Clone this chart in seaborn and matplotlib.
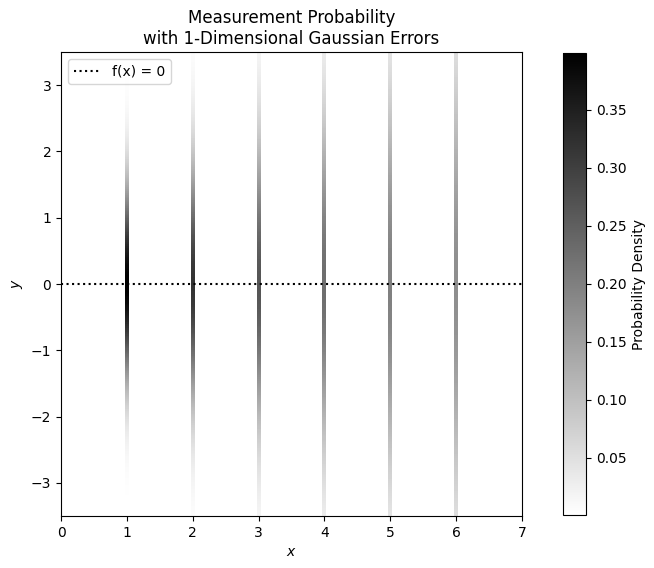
import numpy as np
import pandas as pd
import matplotlib
matplotlib.use("Agg")
import matplotlib.pyplot as plt
import seaborn as sns

# data
x_centers = [1, 2, 3, 4, 5, 6]
sigmas = [1.0, 1.25, 1.5, 1.75, 2.0, 2.25]
stripe_halfwidth = 0.03

x_lim = (0, 7)
y_lim = (-3.5, 3.5)

# build density image
nx, ny = 1400, 700
xg = np.linspace(x_lim[0], x_lim[1], nx)
yg = np.linspace(y_lim[0], y_lim[1], ny)
img = np.full((ny, nx), np.nan)
for xc, s in zip(x_centers, sigmas):
    cols = np.abs(xg - xc) <= stripe_halfwidth
    dens = np.exp(-0.5 * (yg / s) ** 2) / (np.sqrt(2 * np.pi) * s)
    img[:, cols] = dens[:, None]
img = np.ma.masked_invalid(img)

fig = plt.figure(figsize=(6.54, 5.68), dpi=100)
ax = fig.add_axes([61 / 654, (568 - 516) / 568, 461 / 654, 464 / 568])
cax = fig.add_axes([563 / 654, (568 - 515) / 568, 23 / 654, 462 / 568])

im = ax.imshow(img, origin="lower", extent=[x_lim[0], x_lim[1], y_lim[0], y_lim[1]],
               cmap="binary", aspect="auto", interpolation="nearest")

line_df = pd.DataFrame({"x": [x_lim[0], x_lim[1]], "y": [0.0, 0.0]})
sns.lineplot(data=line_df, x="x", y="y", ax=ax, color="black", linestyle=":",
             linewidth=1.5, label="f(x) = 0")

ax.set_xlim(*x_lim)
ax.set_ylim(*y_lim)
ax.set_xlabel("$x$")
ax.set_ylabel("$y$")
ax.set_title("Measurement Probability\nwith 1-Dimensional Gaussian Errors")
ax.legend(loc="upper left")

cb = fig.colorbar(im, cax=cax)
cb.set_label("Probability Density")

fig.savefig("out.png", dpi=100)
